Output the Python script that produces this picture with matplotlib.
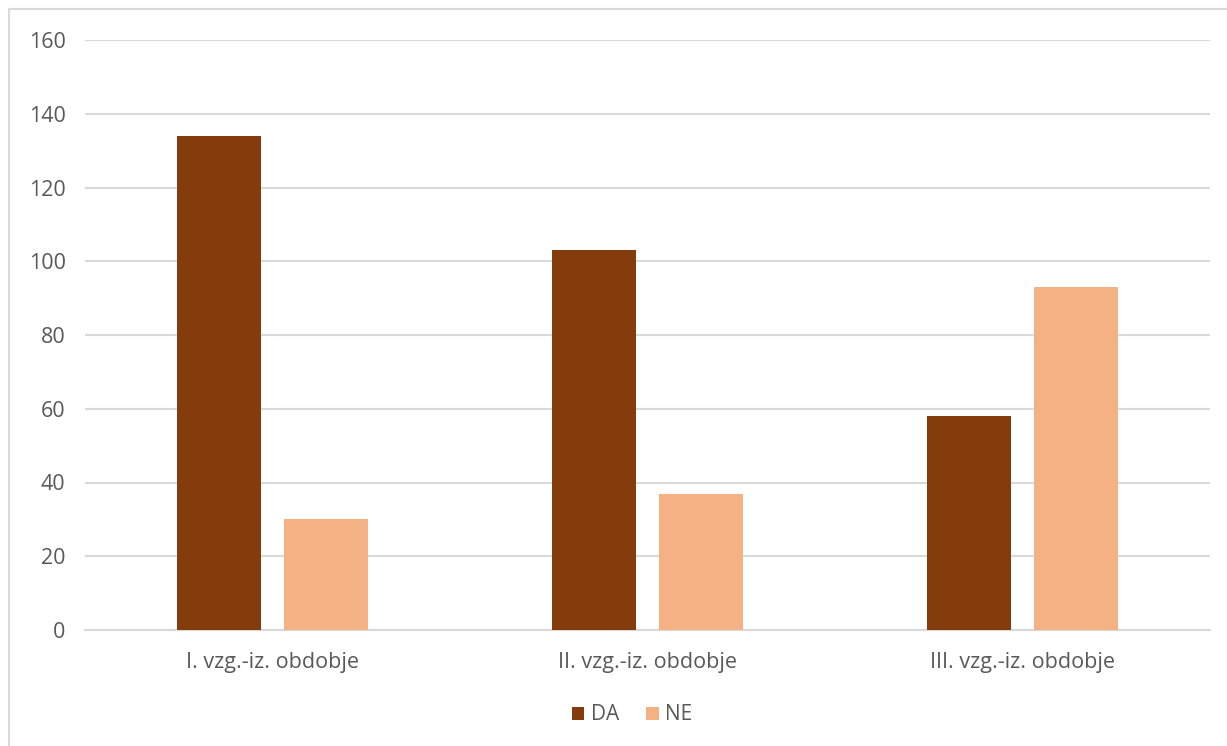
import numpy as np
import matplotlib.pyplot as plt
from matplotlib.patches import Rectangle

categories = ['I. vzg.-iz. obdobje', 'II. vzg.-iz. obdobje', 'III. vzg.-iz. obdobje']
da_values = [134, 103, 58]
ne_values = [30, 37, 93]
y_ticks = [0, 20, 40, 60, 80, 100, 120, 140, 160]

DA_COLOR = '#843C0C'
NE_COLOR = '#F4B183'
TEXT_COLOR = '#595959'
GRID_COLOR = '#D9D9D9'

plt.rcParams['font.family'] = ['Open Sans', 'DejaVu Sans']

fig = plt.figure(figsize=(12.27, 7.46), dpi=100)
ax = fig.add_axes([85 / 1227, 1 - 630 / 746, 1125 / 1227, 590 / 746])

# outer chart frame
fig.patches.append(Rectangle((9 / 1227, -0.01), 1.05, 1 - 9 / 746 + 0.01,
                             transform=fig.transFigure, fill=False,
                             edgecolor='#D9D9D9', linewidth=1.5))

x = np.arange(len(categories))
width = 0.225
offset = 0.1425
ax.bar(x - offset, da_values, width, color=DA_COLOR, label='DA', zorder=3)
ax.bar(x + offset, ne_values, width, color=NE_COLOR, label='NE', zorder=3)

ax.set_xlim(-0.5, 2.5)
ax.set_ylim(0, 160)
ax.set_yticks(y_ticks)
ax.set_xticks(x)
ax.set_xticklabels(categories)
ax.yaxis.grid(True, color=GRID_COLOR, linewidth=1.5, zorder=0)
ax.tick_params(axis='both', length=0, labelsize=15.5, colors=TEXT_COLOR)
ax.tick_params(axis='y', pad=14)
ax.tick_params(axis='x', pad=16)
for side in ['top', 'right', 'left']:
    ax.spines[side].set_visible(False)
ax.spines['bottom'].set_color(GRID_COLOR)
ax.spines['bottom'].set_linewidth(1.5)

fig.legend(loc='center', bbox_to_anchor=(632 / 1227, 1 - 715 / 746), ncol=2,
           frameon=False, fontsize=15, labelcolor=TEXT_COLOR,
           handlelength=0.6, handleheight=0.6, handletextpad=0.3, columnspacing=1.3)

fig.savefig('out.png', dpi=100)
